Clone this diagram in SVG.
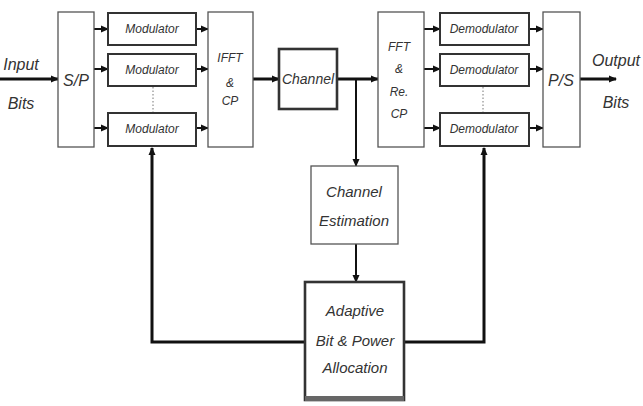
<svg xmlns="http://www.w3.org/2000/svg" width="643" height="406" viewBox="0 0 643 406">
<defs>
<marker id="ah" markerWidth="8" markerHeight="8" refX="7" refY="4" orient="auto" markerUnits="userSpaceOnUse">
<path d="M0,0.5 L8,4 L0,7.5 Z" fill="#111"/>
</marker>
<style>
text{font-family:"Liberation Sans",Arial,sans-serif;font-style:italic;fill:#333;text-anchor:middle}
.thin{fill:#fff;stroke:#555;stroke-width:1.3}
.mod{fill:#fff;stroke:#333;stroke-width:2}
.thick{fill:#fff;stroke:#333;stroke-width:2.6}
.sig{fill:none;stroke:#111;stroke-width:3}
.sm{fill:none;stroke:#111;stroke-width:2}
.dot{fill:none;stroke:#777;stroke-width:1;stroke-dasharray:1.5,2}
.s12{font-size:12px}
.s14{font-size:14px}
.s15{font-size:15px}
.s16{font-size:16px}
</style>
</defs>
<rect width="643" height="406" fill="#fff"/>
<g id="connectors">
<line class="sig" x1="0" y1="79" x2="58" y2="79" marker-end="url(#ah)"/>
<line class="sm" x1="94" y1="29" x2="108" y2="29" marker-end="url(#ah)"/>
<line class="sm" x1="94" y1="69" x2="108" y2="69" marker-end="url(#ah)"/>
<line class="sm" x1="94" y1="128" x2="108" y2="128" marker-end="url(#ah)"/>
<line class="sm" x1="196" y1="29" x2="208" y2="29" marker-end="url(#ah)"/>
<line class="sm" x1="196" y1="69" x2="208" y2="69" marker-end="url(#ah)"/>
<line class="sm" x1="196" y1="128" x2="208" y2="128" marker-end="url(#ah)"/>
<line class="dot" x1="153" y1="87" x2="153" y2="113"/>
<line class="sig" x1="253" y1="79" x2="279" y2="79" marker-end="url(#ah)"/>
<line class="sig" x1="337" y1="79" x2="378" y2="79" marker-end="url(#ah)"/>
<line class="sm" x1="356" y1="79" x2="356" y2="166" marker-end="url(#ah)"/>
<line class="sm" x1="356" y1="244" x2="356" y2="282" marker-end="url(#ah)"/>
<line class="sm" x1="424" y1="29" x2="440" y2="29" marker-end="url(#ah)"/>
<line class="sm" x1="424" y1="69" x2="440" y2="69" marker-end="url(#ah)"/>
<line class="sm" x1="424" y1="128" x2="440" y2="128" marker-end="url(#ah)"/>
<line class="dot" x1="483" y1="87" x2="483" y2="113"/>
<line class="sm" x1="529" y1="29" x2="543" y2="29" marker-end="url(#ah)"/>
<line class="sm" x1="529" y1="69" x2="543" y2="69" marker-end="url(#ah)"/>
<line class="sm" x1="529" y1="128" x2="543" y2="128" marker-end="url(#ah)"/>
<line class="sig" x1="580" y1="79" x2="616" y2="79" marker-end="url(#ah)"/>
<polyline class="sig" points="305,342 152,342 152,148" marker-end="url(#ah)"/>
<polyline class="sig" points="404,342 484,342 484,148" marker-end="url(#ah)"/>
</g>
<g id="input-label"><text class="s16" x="21" y="70">Input</text><text class="s16" x="21" y="109">Bits</text></g>
<g id="sp"><rect class="thin" x="58" y="12" width="36" height="135"/><text class="s16" x="76" y="86">S/P</text></g>
<g id="mod1"><rect class="mod" x="108" y="13" width="88" height="32"/><text class="s12" x="152" y="33">Modulator</text></g>
<g id="mod2"><rect class="mod" x="108" y="54" width="88" height="32"/><text class="s12" x="152" y="74">Modulator</text></g>
<g id="mod3"><rect class="mod" x="108" y="113" width="88" height="33"/><text class="s12" x="152" y="133">Modulator</text></g>
<g id="ifft"><rect class="thin" x="208" y="12" width="45" height="135"/><text class="s12" x="230" y="62">IFFT</text><text class="s12" x="230" y="87">&amp;</text><text class="s12" x="230" y="105">CP</text></g>
<g id="channel"><rect class="thick" x="279" y="49" width="58" height="60"/><text class="s14" x="308" y="84">Channel</text></g>
<g id="fft"><rect class="thin" x="378" y="12" width="46" height="135"/><text class="s12" x="399" y="51">FFT</text><text class="s12" x="399" y="73">&amp;</text><text class="s12" x="399" y="96">Re.</text><text class="s12" x="399" y="118">CP</text></g>
<g id="demod1"><rect class="mod" x="440" y="13" width="89" height="32"/><text class="s12" x="484" y="33">Demodulator</text></g>
<g id="demod2"><rect class="mod" x="440" y="54" width="89" height="32"/><text class="s12" x="484" y="74">Demodulator</text></g>
<g id="demod3"><rect class="mod" x="440" y="113" width="89" height="33"/><text class="s12" x="484" y="133">Demodulator</text></g>
<g id="ps"><rect class="thin" x="543" y="12" width="37" height="135"/><text class="s16" x="561" y="86">P/S</text></g>
<g id="output-label"><text class="s16" x="616" y="66">Output</text><text class="s16" x="616" y="108">Bits</text></g>
<g id="estimation"><rect class="thin" x="311" y="166" width="87" height="78"/><text class="s15" x="354" y="197">Channel</text><text class="s15" x="354" y="226">Estimation</text></g>
<g id="allocation"><rect class="thick" x="305" y="282" width="99" height="118"/><rect x="305" y="396" width="99" height="5" fill="#666"/><text class="s15" x="355" y="316">Adaptive</text><text class="s15" x="355" y="346">Bit &amp; Power</text><text class="s15" x="355" y="373">Allocation</text></g>
</svg>
